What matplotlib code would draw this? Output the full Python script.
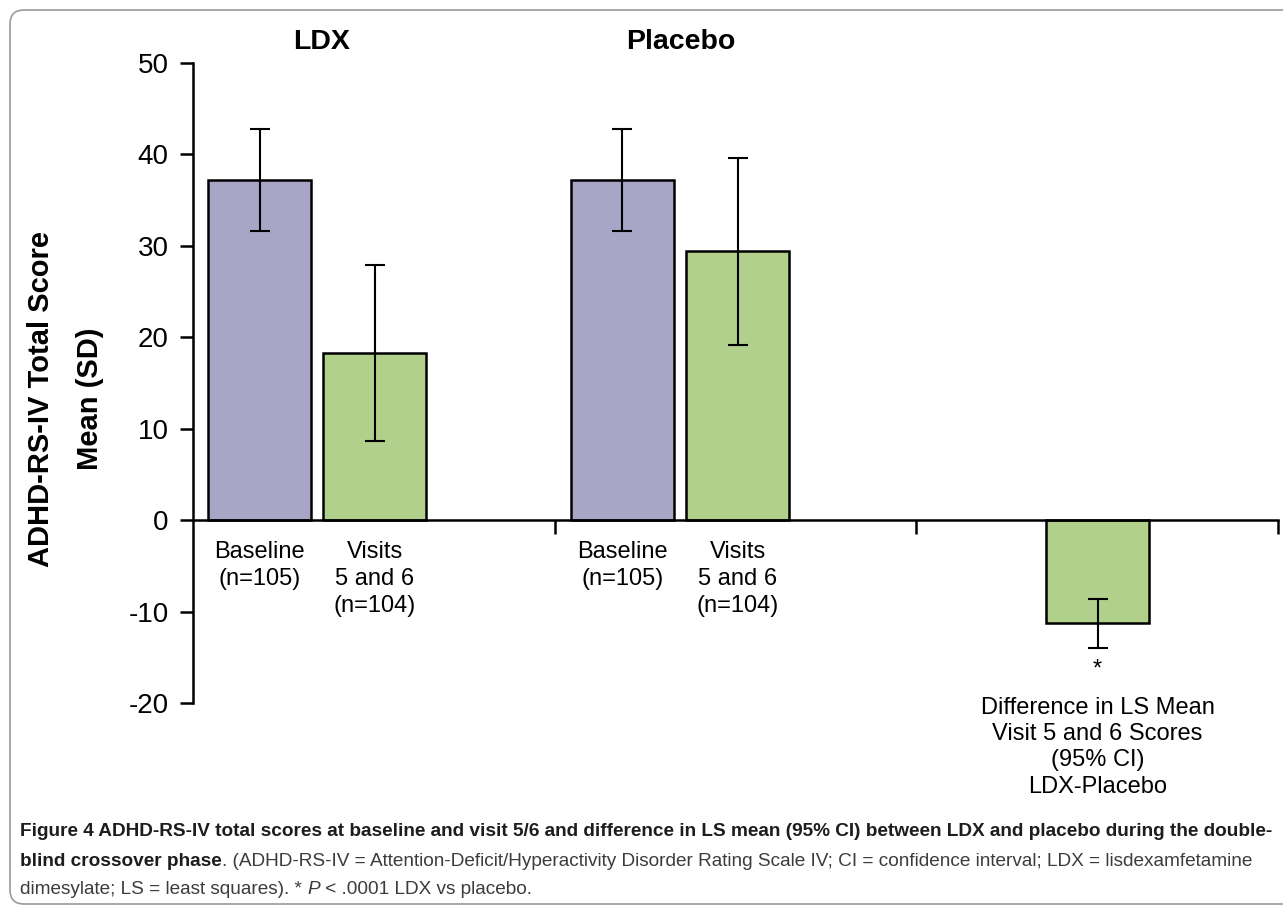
import numpy as np
import matplotlib
matplotlib.use('Agg')
import matplotlib.pyplot as plt
from matplotlib.patches import FancyBboxPatch

# data
groups = ['LDX', 'Placebo']
bar_labels = ['Baseline\n(n=105)', 'Visits\n5 and 6\n(n=104)',
              'Baseline\n(n=105)', 'Visits\n5 and 6\n(n=104)']
diff_label = 'Difference in LS Mean\nVisit 5 and 6 Scores\n(95% CI)\nLDX-Placebo'
means = [37.2, 18.3, 37.2, 29.4, -11.3]
errs = [5.6, 9.6, 5.6, 10.2, 2.7]
kinds = ['baseline', 'visit', 'baseline', 'visit', 'visit']
yticks = [-20, -10, 0, 10, 20, 30, 40, 50]

colors = {'baseline': '#a7a6c7', 'visit': '#b0d08b'}
xpos = [0.184, 0.503, 1.187, 1.506, 2.501]
bar_w = 0.285

plt.rcParams['font.family'] = ['Liberation Sans', 'DejaVu Sans']

W, H = 1283, 906
fig = plt.figure(figsize=(W / 100, H / 100), dpi=100)
ax = fig.add_axes([193 / W, 1 - 703 / H, (1278 - 193) / W, (703 - 63) / H])

ax.bar(xpos, means, width=bar_w, color=[colors[k] for k in kinds],
       edgecolor='black', linewidth=1.8, zorder=2)
ax.errorbar(xpos, means, yerr=errs, fmt='none', ecolor='black',
            elinewidth=1.5, capsize=7.5, capthick=1.5, zorder=3)

ax.set_xlim(0, 3)
ax.set_ylim(-20, 50)
ax.set_yticks(yticks)
ax.set_yticklabels([str(v) for v in yticks], fontsize=20)
ax.set_xticks([1, 2, 3])
ax.set_xticklabels([])
ax.tick_params(axis='y', direction='out', length=9.5, width=1.8, pad=8)
ax.tick_params(axis='x', direction='out', length=10, width=1.8)
for s in ['top', 'right']:
    ax.spines[s].set_visible(False)
ax.spines['bottom'].set_position(('data', 0))
ax.spines['left'].set_linewidth(1.8)
ax.spines['bottom'].set_linewidth(1.8)
ax.spines['bottom'].set_zorder(4)
ax.patch.set_visible(False)

# group titles
ax.text(0.355, 52.3, groups[0], ha='center', va='center', fontsize=20.5, fontweight='bold')
ax.text(1.349, 52.3, groups[1], ha='center', va='center', fontsize=20.5, fontweight='bold')

# bar labels
for x, lab in zip(xpos[:4], bar_labels):
    ax.text(x, -2.3, lab, ha='center', va='top', fontsize=17, linespacing=1.28)
ax.text(xpos[4], -16.3, '*', ha='center', va='center', fontsize=17)
ax.text(xpos[4], -19.3, diff_label, ha='center', va='top', fontsize=17, linespacing=1.26)

# y label, two lines
fig.text(41 / W, 1 - 399 / H, 'ADHD-RS-IV Total Score', rotation=90,
         ha='center', va='center', fontsize=21, fontweight='bold')
fig.text(90 / W, 1 - 399 / H, 'Mean (SD)', rotation=90,
         ha='center', va='center', fontsize=21, fontweight='bold')

# rounded frame
frame = FancyBboxPatch((10, 2), 1400, 894, boxstyle='round,pad=0,rounding_size=14',
                       transform=None, facecolor='none', edgecolor='#9a9a9a', linewidth=1.2)
fig.add_artist(frame)

# caption
cap_fam = ['Liberation Sans Narrow', 'Liberation Sans']
renderer = fig.canvas.get_renderer()
line1 = ('Figure 4 ADHD-RS-IV total scores at baseline and visit 5/6 and difference in LS mean '
         '(95% CI) between LDX and placebo during the double-')
probe = fig.text(0, 0, line1, fontsize=13, fontweight='bold', family=cap_fam)
w = probe.get_window_extent(renderer).width
probe.remove()
fs = 13 * (1258 - 2) / w

def put_pieces(y, pieces):
    x = 20
    for txt, weight, style, col in pieces:
        t = fig.text(x / W, 1 - y / H, txt, fontsize=fs, fontweight=weight, fontstyle=style,
                     color=col, family=cap_fam, va='center', ha='left')
        x += t.get_window_extent(renderer).width

dark = '#1d1d1b'
grey = '#3c3c3c'
put_pieces(831, [(line1, 'bold', 'normal', dark)])
put_pieces(861, [('blind crossover phase', 'bold', 'normal', dark),
                 ('. (ADHD-RS-IV = Attention-Deficit/Hyperactivity Disorder Rating Scale IV; '
                  'CI = confidence interval; LDX = lisdexamfetamine', 'normal', 'normal', grey)])
put_pieces(889, [('dimesylate; LS = least squares). * ', 'normal', 'normal', grey),
                 ('P', 'normal', 'italic', grey),
                 (' < .0001 LDX vs placebo.', 'normal', 'normal', grey)])

fig.savefig('out.png', dpi=100)
